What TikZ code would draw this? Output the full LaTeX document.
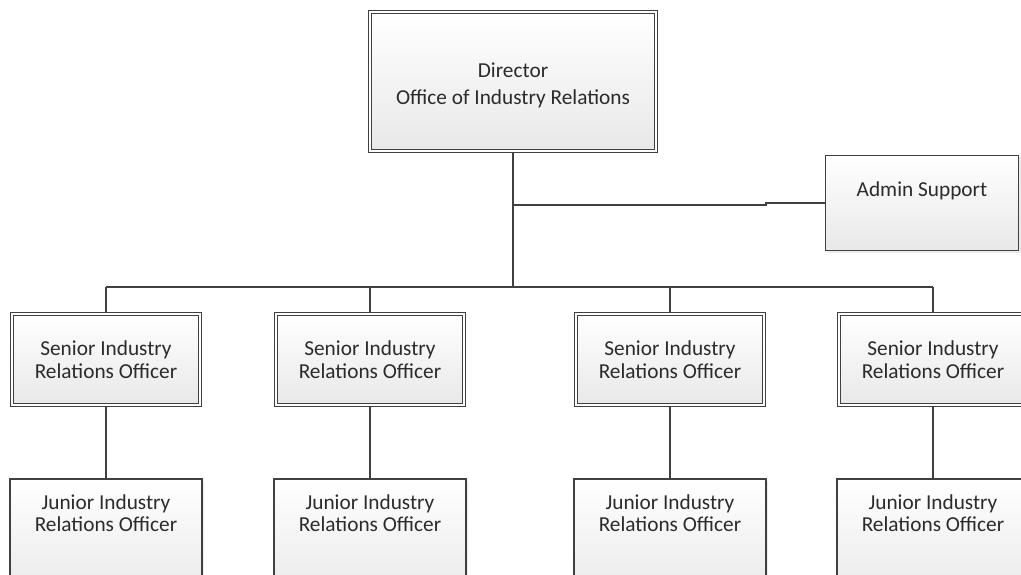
\documentclass[tikz,border=0pt]{standalone}
\usepackage{fontspec}
\setmainfont{Carlito}
\usetikzlibrary{shadows}
\definecolor{edge}{HTML}{404040}
\definecolor{txt}{HTML}{2B2B2B}
\tikzset{
  x=1pt, y=-1pt,
  base/.style={shape=rectangle, draw=edge, top color=white, bottom color=black!9,
    text=txt, align=center, font=\fontsize{21.3}{23}\selectfont, inner sep=0pt,
    drop shadow={shadow xshift=2pt, shadow yshift=-2pt, fill=black!12, opacity=0.6}},
  dblbox/.style={base, line width=1.1pt, double=white, double distance=1.8pt},
  sglbox/.style={base, line width=1.3pt},
  conn/.style={draw=edge, line width=1.4pt},
  label/.style={text=txt, align=center, font=\fontsize{21.3}{22}\selectfont, inner sep=0pt}
}
\begin{document}
\begin{tikzpicture}
\useasboundingbox (0,0) rectangle (1021,575);
\clip (0,0) rectangle (1021,575);

% Director
\node[dblbox, minimum width=286pt, minimum height=139pt] (dir) at (513,81.5) {};
\node[label, font=\fontsize{21.3}{27}\selectfont] (dirt) at (513,85)
  {Director\\Office of Industry Relations};

% Admin support
\node[sglbox, minimum width=193pt, minimum height=95pt] (adm) at (922,203) {};
\node[label] (admt) at (922,191) {Admin Support};

% Senior officers
\foreach \i/\x in {1/106, 2/370, 3/670, 4/933} {
  \node[dblbox, minimum width=188pt, minimum height=91pt]
    (s\i) at (\x,359.5) {Senior Industry\\Relations Officer};
  \node[sglbox, minimum width=192pt, minimum height=121pt] (j\i) at (\x,539.5) {};
  \node[label] (jt\i) at (\x,513) {Junior Industry\\Relations Officer};
}

% Connectors
\coordinate (bus) at (513,287);
\coordinate (bl) at (106,287);
\coordinate (br) at (933,287);
\coordinate (ab) at (513,205);
\coordinate (jog) at (766,205);
\draw[conn] (dir.south) -- (bus);
\draw[conn] (ab) -- (jog) -- (jog |- adm.west) -- (adm.west);
\draw[conn] (bl) -- (br);
\foreach \i in {1,2,3,4} {
  \draw[conn] (s\i.north |- bus) -- (s\i.north);
  \draw[conn] (s\i.south) -- (j\i.north);
}
\end{tikzpicture}
\end{document}
